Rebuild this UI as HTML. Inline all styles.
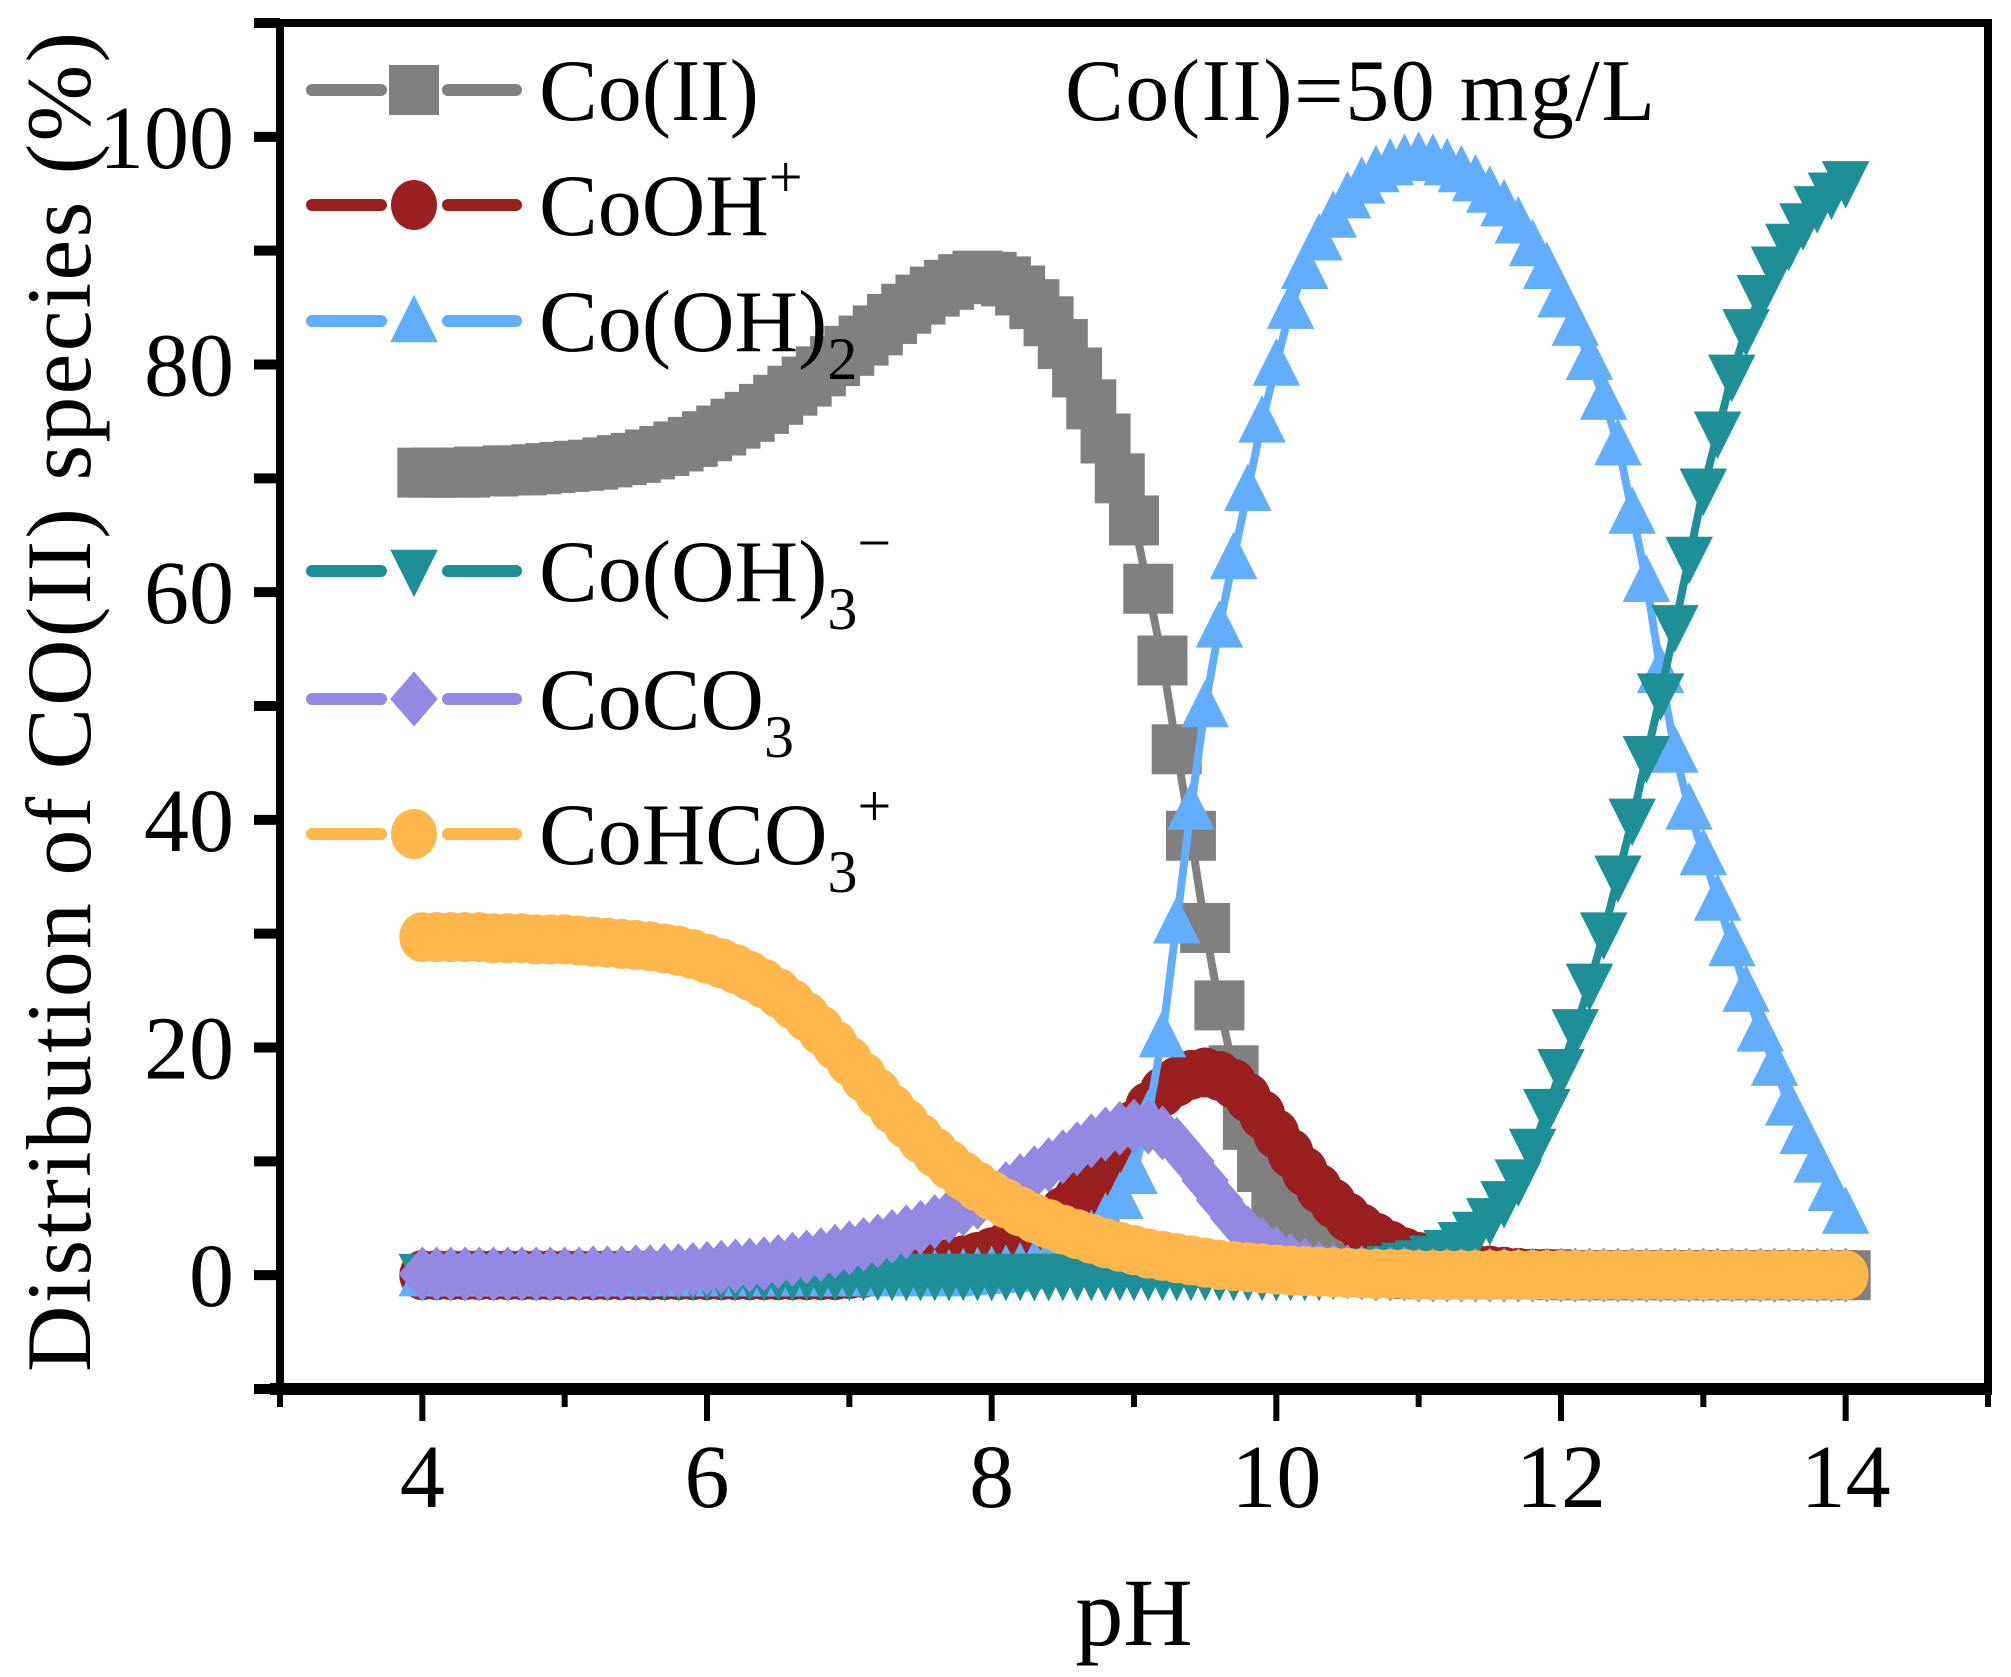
<!DOCTYPE html>
<html><head><meta charset="utf-8"><style>
html,body{margin:0;padding:0;background:#fff;}
svg{display:block;font-family:"Liberation Serif",serif;}
</style></head><body>
<svg id="chart" width="2011" height="1677" viewBox="0 0 2011 1677" xmlns="http://www.w3.org/2000/svg">
<rect x="0" y="0" width="2011" height="1677" fill="#fff"/>
<g id="plot"></g>
<g id="axes"></g>
<g id="legend"></g>
<text x="1065" y="120" font-size="88" textLength="590">Co(II)=50 mg/L</text>
<text transform="translate(90,702) rotate(-90)" text-anchor="middle" font-size="92" textLength="1340">Distribution of CO(II) species (%)</text>
<text x="1134" y="1645" text-anchor="middle" font-size="96">pH</text>
</svg>
<script>
const phStart = 4.0;
const phStep = 0.1;
const xTickLabels = ["4","6","8","10","12","14"];
const yTickLabels = ["0","20","40","60","80","100"];
const coII = [70.5,70.5,70.5,70.5,70.6,70.6,70.7,70.7,70.8,70.9,
71.0,71.1,71.2,71.4,71.6,71.8,72.1,72.4,72.8,73.2,
73.7,74.2,74.8,75.4,76.1,76.9,77.7,78.5,79.4,80.3,
81.2,82.1,83.0,84.0,84.9,85.7,86.4,87.0,87.5,87.8,
87.7,87.3,86.5,85.3,83.8,81.8,79.3,76.5,73.5,70.0,
66.3,60.3,54.0,46.2,38.6,30.5,23.7,18.0,13.2,9.5,
6.6,4.6,3.2,2.2,1.5,1.0,0.7,0.5,0.3,0.2,
0.1,0.1,0.1,0.1,0.1,0.1,0.1,0.1,0.1,0.1,
0,0,0,0,0,0,0,0,0,0,0,0,0,0,0,0,0,0,0,0,0];
const coOH = [0,0,0,0,0,0,0,0,0,0,
0,0,0,0,0,0,0,0,0,0,
0,0,0,0,0,0,0,0,0,0,
0.1,0.2,0.3,0.4,0.5,0.6,0.8,1.0,1.3,1.6,
2.0,2.5,3.1,3.8,4.6,5.6,6.8,8.2,9.8,11.5,
13.2,14.8,16.1,17.0,17.6,17.8,17.5,16.8,15.6,14.1,
12.4,10.7,9.1,7.6,6.3,5.1,4.1,3.3,2.6,2.0,
1.6,1.2,0.9,0.7,0.5,0.4,0.3,0.2,0.1,0.1,
0,0,0,0,0,0,0,0,0,0,0,0,0,0,0,0,0,0,0,0,0];
const coOH2 = [0,0,0,0,0,0,0,0,0,0,
0,0,0,0,0,0,0,0,0,0,
0,0,0,0,0,0,0,0,0,0,
0,0,0,0,0,0,0,0,0.1,0.2,
0.3,0.4,0.6,0.9,1.3,1.8,2.5,3.5,5.0,6.8,
9,14,21,31,41,50,57,63,69,75,
80,85,88.5,91,93,94.7,96,97,97.6,98,
98.2,98,97.6,97,96.2,95.2,94,92.5,90.5,88.5,
86,83.5,80.5,77,73,67,61,53,46,41,
37,33,29,25,21.5,18.5,15,12.5,10,7.5,5.5];
const coOH3 = [0,0,0,0,0,0,0,0,0,0,
0,0,0,0,0,0,0,0,0,0,
0,0,0,0,0,0,0,0,0,0,
0,0,0,0,0,0,0,0,0,0,
0,0,0,0,0,0,0,0,0,0,
0,0,0,0,0,0,0,0,0,0,
0,0,0,0,0.1,0.2,0.3,0.5,0.7,1.0,
1.2,1.6,2.1,2.8,3.7,4.9,6.4,8.3,11,14.5,
18,21.5,25.5,30,35,40,45.5,51,57,63,
69,74,79,83,86,88.5,90.5,92.3,93.8,95,96];
const coCO3 = [0.1,0.1,0.1,0.1,0.1,0.1,0.1,0.1,0.1,0.1,
0.1,0.1,0.2,0.2,0.2,0.3,0.3,0.4,0.4,0.5,
0.6,0.7,0.8,0.9,1.0,1.2,1.4,1.6,1.8,2.1,
2.4,2.7,3.0,3.4,3.8,4.2,4.7,5.2,5.8,6.4,
7.0,7.6,8.3,9.0,9.7,10.4,11.1,11.8,12.4,12.9,
13.1,13.0,12.5,11.5,10.0,8.3,6.6,5.0,3.7,2.7,
1.9,1.3,0.9,0.6,0.4,0.3,0.2,0.1,0.1,0.1,
0,0,0,0,0,0,0,0,0,0,
0,0,0,0,0,0,0,0,0,0,0,0,0,0,0,0,0,0,0,0,0];
const coHCO3 = [29.7,29.7,29.7,29.7,29.7,29.6,29.6,29.6,29.5,29.5,
29.5,29.4,29.3,29.2,29.1,29.0,28.9,28.7,28.5,28.2,
27.8,27.4,26.9,26.3,25.6,24.8,23.8,22.7,21.5,20.2,
18.8,17.4,16.0,14.6,13.3,12.0,10.8,9.7,8.7,7.8,
7.0,6.3,5.6,5.0,4.5,4.0,3.6,3.2,2.8,2.5,
2.2,1.9,1.7,1.5,1.3,1.1,0.9,0.8,0.7,0.6,
0.5,0.4,0.35,0.3,0.25,0.2,0.15,0.1,0.1,0.1,
0,0,0,0,0,0,0,0,0,0,
0,0,0,0,0,0,0,0,0,0,0,0,0,0,0,0,0,0,0,0,0];

const NS = "http://www.w3.org/2000/svg";
const L = 280, R = 1988, T = 23, B = 1389;
const xMin = 3, xMax = 15, yMin = -10, yMax = 110;
function xs(v){ return L + (v - xMin) / (xMax - xMin) * (R - L); }
function ys(v){ return B - (v - yMin) / (yMax - yMin) * (B - T); }
function mk(tag, attrs, parent){ const e = document.createElementNS(NS, tag); for (const k in attrs) e.setAttribute(k, attrs[k]); parent.appendChild(e); return e; }

const series = [
 {name:"co-ii", data:coII, color:"#808080", shape:"square"},
 {name:"cooh-plus", data:coOH, color:"#9a1f1f", shape:"circle"},
 {name:"co-oh-2", data:coOH2, color:"#62aefc", shape:"triangle"},
 {name:"co-oh-3-minus", data:coOH3, color:"#1e8f96", shape:"down"},
 {name:"coco3", data:coCO3, color:"#9389e3", shape:"diamond"},
 {name:"cohco3-plus", data:coHCO3, color:"#ffb74c", shape:"circle"}
];
const S = 25;
function marker(shape, cx, cy, color, parent){
  let e;
  if (shape === "square") e = mk("rect", {x:cx-S, y:cy-S, width:2*S, height:2*S, fill:color}, parent);
  else if (shape === "circle") e = mk("ellipse", {cx:cx, cy:cy, rx:S*0.92, ry:S*1.0, fill:color}, parent);
  else if (shape === "triangle") e = mk("polygon", {points:`${cx},${cy-S*1.05} ${cx+S*0.95},${cy+S*0.85} ${cx-S*0.95},${cy+S*0.85}`, fill:color}, parent);
  else if (shape === "down") e = mk("polygon", {points:`${cx},${cy+S*1.05} ${cx+S*0.95},${cy-S*0.85} ${cx-S*0.95},${cy-S*0.85}`, fill:color}, parent);
  else e = mk("polygon", {points:`${cx},${cy-S*1.1} ${cx+S*0.95},${cy} ${cx},${cy+S*1.1} ${cx-S*0.95},${cy}`, fill:color}, parent);
  return e;
}
const plot = document.getElementById("plot");
series.forEach(s => {
  const g = mk("g", {}, plot);
  
  
  const pts = s.data.map((v,i) => xs(phStart + i*phStep).toFixed(1) + "," + ys(v).toFixed(1)).join(" ");
  const line = mk("polyline", {points:pts, fill:"none", stroke:s.color, "stroke-width":8, "stroke-linejoin":"round"}, g);
  
  
  s.data.forEach((v,i) => {
    const m = marker(s.shape, xs(phStart + i*phStep), ys(v), s.color, g);
    
    
  });
});

const axes = document.getElementById("axes");
const frame = mk("rect", {x:L, y:T, width:R-L, height:B-T, fill:"none", stroke:"#000", "stroke-width":8}, axes);


const xAxisLine = mk("line", {x1:L-10, y1:B, x2:R+4, y2:B, stroke:"#000", "stroke-width":12}, axes);


for (let v = 3; v <= 15; v++) {
  const major = (v % 2 === 0);
  const t = mk("line", {x1:xs(v), y1:B, x2:xs(v), y2:B + (major ? 32 : 18), stroke:"#000", "stroke-width":6}, axes);
  
  
}
xTickLabels.forEach(lbl => {
  const t = mk("text", {x:xs(+lbl), y:1507, "text-anchor":"middle", "font-size":90}, axes);
  t.textContent = lbl;
  
  
});
for (let v = -10; v <= 110; v += 10) {
  const t = mk("line", {x1:L - 26, y1:ys(v), x2:L, y2:ys(v), stroke:"#000", "stroke-width":10}, axes);
  
  
}
yTickLabels.forEach(lbl => {
  const t = mk("text", {x:234, y:ys(+lbl) + 31, "text-anchor":"end", "font-size":90}, axes);
  t.textContent = lbl;
  
  
});

const legend = document.getElementById("legend");
const legendRows = [
 {y:90, html:["Co(II)"]},
 {y:205, html:["CoOH","+","sup"]},
 {y:321, html:["Co(OH)","2","sub"]},
 {y:571, html:["Co(OH)","3","sub","\u2212","sup"]},
 {y:699, html:["CoCO","3","sub"]},
 {y:834, html:["CoHCO","3","sub","+","sup"]}
];
legendRows.forEach((row, k) => {
  const s = series[k];
  const g = mk("g", {}, legend);
  
  
  mk("line", {x1:312, y1:row.y, x2:381, y2:row.y, stroke:s.color, "stroke-width":12, "stroke-linecap":"round"}, g);
  mk("line", {x1:448, y1:row.y, x2:516, y2:row.y, stroke:s.color, "stroke-width":12, "stroke-linecap":"round"}, g);
  marker(s.shape, 414, row.y, s.color, g);
  const t = mk("text", {x:539, y:row.y + 30, "font-size":88}, g);
  
  
  const h = row.html;
  const main = mk("tspan", {}, t); main.textContent = h[0];
  let i = 1, dySum = 0;
  while (i < h.length) {
    const txt = h[i], kind = h[i+1];
    const dy = kind === "sub" ? 28 : -38;
    const sp = mk("tspan", {dy: dy - dySum, "font-size":60}, t);
    sp.textContent = txt;
    dySum = dy;
    i += 2;
  }
});
</script>
</body></html>
